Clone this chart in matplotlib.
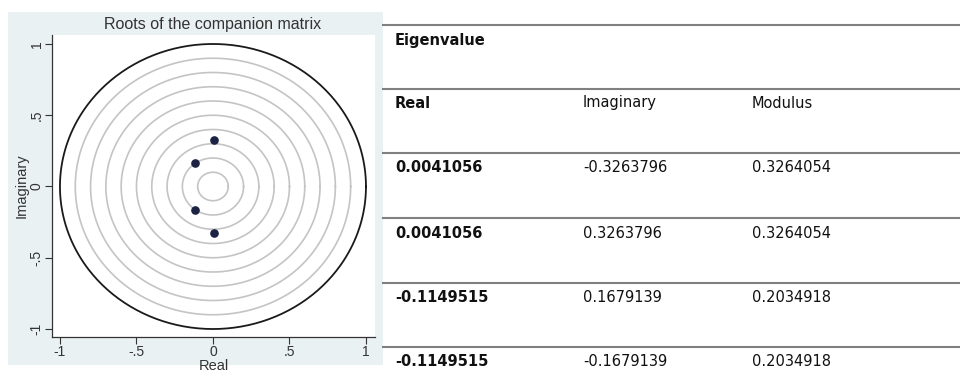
import numpy as np
import matplotlib
matplotlib.use("Agg")
import matplotlib.pyplot as plt
from matplotlib.patches import Rectangle
from matplotlib.lines import Line2D

# Eigenvalues of the companion matrix
real = [0.0041056, 0.0041056, -0.1149515, -0.1149515]
imag = [-0.3263796, 0.3263796, 0.1679139, -0.1679139]
modulus = [0.3264054, 0.3264054, 0.2034918, 0.2034918]

ring_radii = [0.1, 0.2, 0.3, 0.4, 0.5, 0.6, 0.7, 0.8, 0.9]
tick_vals = [-1, -0.5, 0, 0.5, 1]
tick_labels = ["-1", "-.5", "0", ".5", "1"]

W, H = 960, 374
fig = plt.figure(figsize=(W / 100, H / 100), dpi=100)
fig.patch.set_facecolor("white")

# graph region background
fig.patches.append(Rectangle((8 / W, 1 - 365 / H), (383 - 8) / W, (365 - 12) / H,
                             transform=fig.transFigure, facecolor="#eaf1f3",
                             edgecolor="none", zorder=-1))

ax = fig.add_axes([52 / W, 1 - 337 / H, (375 - 52) / W, (337 - 35) / H])
ax.set_facecolor("white")
ax.set_xlim(-1.052, 1.059)
ax.set_ylim(-1.056, 1.063)

t = np.linspace(0, 2 * np.pi, 400)
for r in ring_radii:
    ax.plot(r * np.cos(t), r * np.sin(t), color="#c4c4c4", lw=1.2, zorder=1)
ax.plot(np.cos(t), np.sin(t), color="#1a1a1a", lw=1.3, zorder=2)

ax.plot(real, imag, "o", color="#1b2242", markersize=5.2, zorder=3)

for s in ["top", "right"]:
    ax.spines[s].set_visible(False)
for s in ["left", "bottom"]:
    ax.spines[s].set_color("#333333")
    ax.spines[s].set_linewidth(0.9)

lf = "Liberation Sans"
ax.set_xticks(tick_vals)
ax.set_xticklabels(tick_labels, fontsize=10, family=lf, color="#333333")
ax.set_yticks(tick_vals)
ax.set_yticklabels(tick_labels, fontsize=10, family=lf, color="#333333",
                   rotation=90, va="center")
ax.tick_params(direction="out", length=5, width=0.8, color="#333333", pad=1)
ax.set_xlabel("Real", fontsize=10.5, family=lf, color="#333333", labelpad=0)
ax.set_ylabel("Imaginary", fontsize=10.5, family=lf, color="#333333", labelpad=1)

fig.text(213 / W, 1 - 25 / H, "Roots of the companion matrix", ha="center",
         va="center", fontsize=11.5, family=lf, color="#333333")

# eigenvalue table
line_ys = [25, 89, 153, 218, 283, 347]
for y in line_ys:
    fig.add_artist(Line2D([383 / W, 1.0], [1 - y / H, 1 - y / H],
                          transform=fig.transFigure, color="#808080", lw=1.5))

col_x = [395, 583, 752]
fs = 10.5
fig.text(col_x[0] / W, 1 - 40 / H, "Eigenvalue", fontsize=fs, weight="bold",
         va="center", color="#111111")
fig.text(col_x[0] / W, 1 - 103 / H, "Real", fontsize=fs, weight="bold",
         va="center", color="#111111")
fig.text(col_x[1] / W, 1 - 103 / H, "Imaginary", fontsize=fs, va="center",
         color="#111111")
fig.text(col_x[2] / W, 1 - 103 / H, "Modulus", fontsize=fs, va="center",
         color="#111111")

row_ys = [167, 233, 297, 362]
for y, re, im, mo in zip(row_ys, real, imag, modulus):
    fig.text(col_x[0] / W, 1 - y / H, f"{re:.7f}", fontsize=fs, weight="bold",
             va="center", color="#111111")
    fig.text(col_x[1] / W, 1 - y / H, f"{im:.7f}", fontsize=fs, va="center",
             color="#111111")
    fig.text(col_x[2] / W, 1 - y / H, f"{mo:.7f}", fontsize=fs, va="center",
             color="#111111")

fig.savefig("out.png", dpi=100)
